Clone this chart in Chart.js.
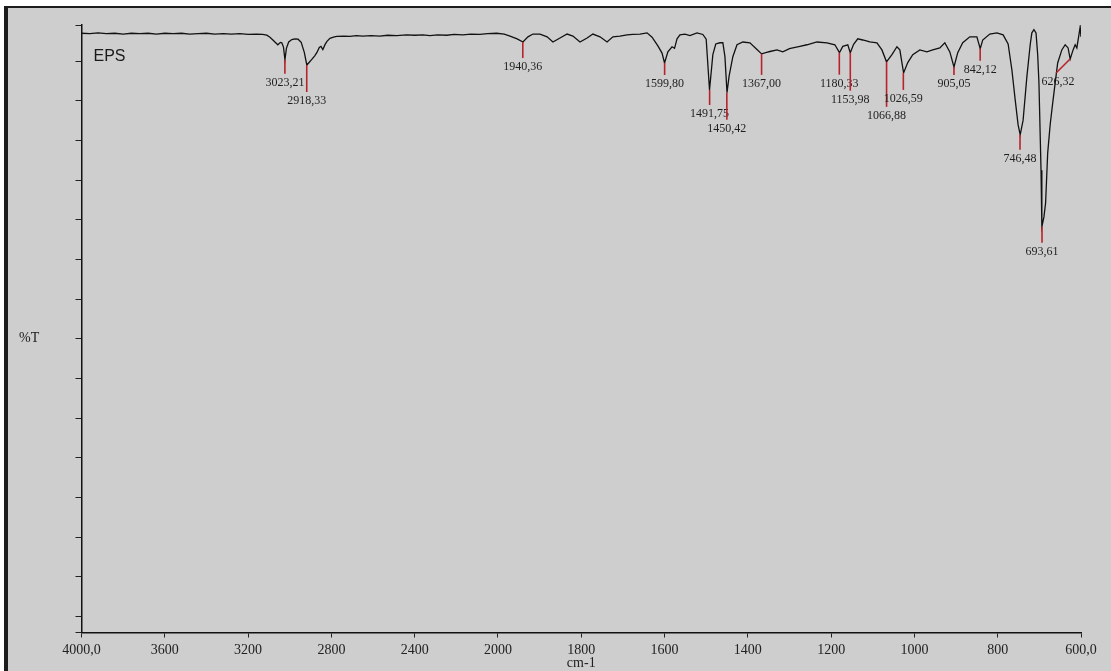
<!DOCTYPE html>
<html>
<head>
<meta charset="utf-8">
<script src="https://cdn.jsdelivr.net/npm/chart.js@4.4.1/dist/chart.umd.min.js"></script>
<style>
  html, body { margin: 0; padding: 0; background: #fff; width: 1111px; height: 671px; overflow: hidden; }
  #frame {
    position: absolute; left: 4px; top: 6px; width: 1107px; height: 665px;
    border-left: 4px solid #1c1c1c; border-top: 2px solid #1c1c1c;
    background: #cecece; box-sizing: border-box;
  }
  #wrap { position: absolute; left: 0; top: 0; width: 1111px; height: 671px; }
</style>
</head>
<body>
<div id="frame"></div>
<div id="wrap"><canvas id="irChart" width="1111" height="671"></canvas></div>
<script>
// espectro IR - EPS

const xTicks = [4000, 3600, 3200, 2800, 2400, 2000, 1800, 1600, 1400, 1200, 1000, 800, 600];
const xTickLabels = ["4000,0", "3600", "3200", "2800", "2400", "2000", "1800", "1600", "1400", "1200", "1000", "800", "600,0"];

// numero de onda (cm-1)
const wn = [
  4000, 3960, 3920, 3880, 3840, 3800, 3760, 3720, 3680, 3640, 3600, 3560, 3520, 3480, 3440, 3400,
  3360, 3320, 3280, 3240, 3200, 3160, 3130, 3110, 3095, 3081, 3065, 3057, 3045, 3038, 3030, 3023,
  3016, 3005, 2990, 2975, 2960, 2945, 2930, 2918, 2906, 2894, 2880, 2870, 2858, 2850, 2841, 2830,
  2822, 2807, 2790, 2774, 2740, 2711, 2680, 2649, 2610, 2567, 2530, 2486, 2440, 2399, 2360, 2327,
  2290, 2246, 2210, 2169, 2130, 2087, 2050, 2006, 1985, 1971, 1954, 1940, 1928, 1916, 1899, 1882,
  1868, 1851, 1834, 1820, 1803, 1786, 1772, 1755, 1738, 1724, 1707, 1690, 1676, 1659, 1642, 1630,
  1616, 1606, 1600, 1592, 1582, 1576, 1570, 1563, 1551, 1539, 1522, 1508, 1500, 1492, 1484, 1477,
  1467, 1460, 1455, 1450, 1445, 1436, 1426, 1412, 1395, 1378, 1367, 1355, 1347, 1330, 1316, 1300,
  1292, 1275, 1258, 1234, 1210, 1191, 1180, 1172, 1160, 1154, 1146, 1136, 1124, 1107, 1090, 1078,
  1067, 1054, 1042, 1035, 1026, 1016, 1004, 987, 970, 956, 939, 927, 915, 905, 896, 884,
  867, 850, 842, 836, 819, 802, 787, 775, 766, 758, 751, 746, 739, 730, 722, 718,
  713, 708, 704, 701, 696, 694, 689, 685, 680, 674, 668, 662, 656, 646, 638, 631, 626,
  619, 614, 610, 605, 602, 600
];

// %T (unidades del eje)
const tr = [
  14.70, 14.69, 14.71, 14.69, 14.70, 14.68, 14.70, 14.69, 14.70, 14.68, 14.70, 14.69, 14.70, 14.68, 14.69, 14.70,
  14.68, 14.69, 14.68, 14.69, 14.67, 14.68, 14.67, 14.65, 14.60, 14.53, 14.45, 14.41, 14.47, 14.46, 14.35, 14.03,
  14.32, 14.48, 14.54, 14.56, 14.55, 14.47, 14.22, 13.90, 13.97, 14.04, 14.13, 14.21, 14.34, 14.37, 14.29, 14.42,
  14.49, 14.57, 14.60, 14.62, 14.63, 14.62, 14.64, 14.63, 14.64, 14.63, 14.65, 14.64, 14.66, 14.65, 14.66, 14.64,
  14.66, 14.65, 14.67, 14.66, 14.68, 14.67, 14.69, 14.70, 14.68, 14.63, 14.56, 14.48, 14.61, 14.68, 14.68, 14.61,
  14.48, 14.58, 14.68, 14.63, 14.48, 14.58, 14.68, 14.61, 14.48, 14.61, 14.63, 14.66, 14.67, 14.68, 14.71, 14.60,
  14.38, 14.20, 13.95, 14.23, 14.36, 14.32, 14.56, 14.66, 14.68, 14.64, 14.71, 14.67, 14.55, 13.27, 14.16, 14.43,
  14.46, 14.46, 14.11, 13.20, 13.62, 14.11, 14.41, 14.48, 14.46, 14.29, 14.18, 14.22, 14.24, 14.28, 14.23, 14.31,
  14.33, 14.37, 14.41, 14.48, 14.46, 14.41, 14.21, 14.37, 14.41, 14.21, 14.42, 14.56, 14.53, 14.48, 14.46, 14.28,
  13.98, 14.16, 14.36, 14.28, 13.70, 13.96, 14.16, 14.28, 14.23, 14.28, 14.33, 14.46, 14.23, 13.85, 14.21, 14.46,
  14.61, 14.61, 14.31, 14.53, 14.68, 14.71, 14.66, 14.43, 13.78, 13.02, 12.39, 12.14, 12.51, 13.60, 14.41, 14.71,
  14.79, 14.71, 14.16, 13.45, 11.25, 9.82, 10.07, 10.42, 11.68, 12.40, 12.94, 13.45, 13.95, 14.28, 14.41, 14.33, 14.05,
  14.28, 14.41, 14.33, 14.66, 14.86, 14.61
];

// picos marcados
const peakWn = [3023.21, 2918.33, 1940.36, 1599.80, 1491.75, 1450.42, 1367.00, 1180.33, 1153.98, 1066.88, 1026.59, 905.05, 842.12, 746.48, 693.61, 626.32];
const peakLabels = ["3023,21", "2918,33", "1940,36", "1599,80", "1491,75", "1450,42", "1367,00", "1180,33", "1153,98", "1066,88", "1026,59", "905,05", "842,12", "746,48", "693,61", "626,32"];
const peakT = [14.03, 13.90, 14.48, 13.95, 13.27, 13.20, 14.18, 14.21, 14.21, 13.98, 13.70, 13.85, 14.31, 12.14, 9.82, 14.05];

// largo de la marca roja (px) y desplazamiento lateral
const peakDrop = [14, 27, 16, 12, 15, 27, 21, 22, 38, 45, 17, 8, 12, 15, 16, 14];
const peakShift = [0, 0, 0, 0, 0, 0, 0, 0, 0, 0, 0, 0, 0, 0, 0, -14];

// eje x con cambio de escala en 2000 cm-1 (como el equipo)
class SplitScale extends Chart.LinearScale {
  buildTicks() {
    return xTicks.map(v => ({ value: v }));
  }
  getPixelForValue(value) {
    const u = value >= 2000 ? 4000 - value : 2000 + 2 * (2000 - value);
    return this.left + this.width * u / 4800;
  }
  getValueForPixel(pixel) {
    const u = (pixel - this.left) / this.width * 4800;
    return u <= 2000 ? 4000 - u : 2000 - (u - 2000) / 2;
  }
}
SplitScale.id = "split";
SplitScale.defaults = {};
Chart.register(SplitScale);

const peakMarks = {
  id: "peakMarks",
  afterDatasetsDraw(chart) {
    const { ctx, scales: { x, y }, chartArea } = chart;
    ctx.save();
    peakWn.forEach((w, i) => {
      const px = x.getPixelForValue(w);
      const py = y.getPixelForValue(peakT[i]);
      const ex = px + peakShift[i];
      const ey = py + peakDrop[i];
      ctx.strokeStyle = "#b8232b";
      ctx.lineWidth = 1.6;
      ctx.beginPath();
      ctx.moveTo(px, py);
      ctx.lineTo(ex, ey);
      ctx.stroke();
      ctx.fillStyle = "#1e1e1e";
      ctx.font = "12px 'Liberation Serif'";
      ctx.textAlign = "center";
      ctx.textBaseline = "middle";
      ctx.fillText(peakLabels[i], ex + (peakShift[i] ? 2 : 0), ey + 9);
    });
    // nombre de la muestra
    ctx.font = "16px 'Liberation Sans'";
    ctx.textAlign = "left";
    ctx.fillStyle = "#1a1a1a";
    ctx.fillText("EPS", chartArea.left + 12, 57);
    // titulo eje y
    ctx.font = "14px 'Liberation Serif'";
    ctx.fillText("%T", 19, (chartArea.top + chartArea.bottom) / 2 + 10);
    ctx.restore();
  }
};

new Chart(document.getElementById("irChart"), {
  type: "line",
  data: {
    datasets: [{
      label: "EPS",
      data: wn.map((w, i) => ({ x: w, y: tr[i] })),
      borderColor: "#111",
      borderWidth: 1.3,
      pointRadius: 0,
      tension: 0,
      fill: false
    }]
  },
  options: {
    responsive: false,
    animation: false,
    layout: { padding: { left: 75.5, right: 30, top: 25, bottom: -2.1 } },
    plugins: { legend: { display: false }, tooltip: { enabled: false } },
    scales: {
      x: {
        type: "split",
        min: 600,
        max: 4000,
        border: { color: "#111", width: 1.5 },
        grid: { drawOnChartArea: false, drawTicks: true, tickLength: 5, color: "#222" },
        ticks: {
          autoSkip: false,
          maxRotation: 0,
          padding: 4,
          color: "#222",
          font: { family: "'Liberation Serif'", size: 14 },
          callback: (v, i) => xTickLabels[i]
        },
        title: {
          display: true,
          text: "cm-1",
          color: "#222",
          font: { family: "'Liberation Serif'", size: 14 },
          padding: { top: -7, bottom: 1 }
        }
      },
      y: {
        min: -0.404,
        max: 14.908,
        border: { color: "#111", width: 1.5 },
        grid: { drawOnChartArea: false, drawTicks: true, tickLength: 6, color: "#222" },
        ticks: { stepSize: 1, display: false }
      }
    }
  },
  plugins: [peakMarks]
});
</script>
</body>
</html>
